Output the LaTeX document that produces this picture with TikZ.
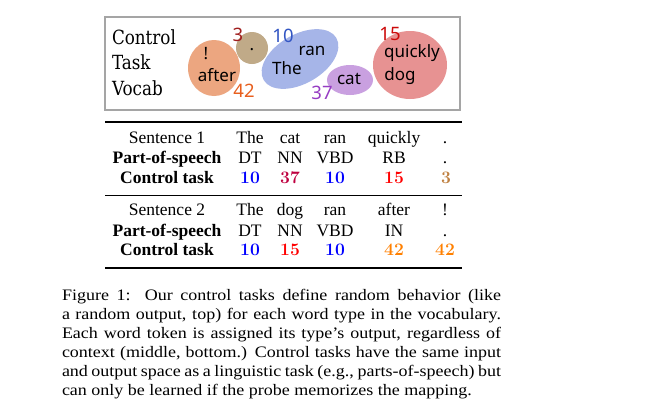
\documentclass[tikz,border=0pt]{standalone}
\usepackage{fontspec}
\newfontfamily\tnr{Liberation Serif}
\newfontfamily\tnrcap[FakeStretch=1.125]{Liberation Serif}
\newfontfamily\vocserif[FakeStretch=0.86]{DejaVu Serif}
\newfontfamily\nsans{Noto Sans}
\definecolor{boxgray}{RGB}{165,165,165}
\definecolor{eorange}{RGB}{236,166,128}
\definecolor{etan}{RGB}{192,170,136}
\definecolor{eblue}{RGB}{166,181,232}
\definecolor{epurple}{RGB}{201,160,224}
\definecolor{ered}{RGB}{231,146,146}
\definecolor{nthree}{RGB}{160,30,30}
\definecolor{nten}{RGB}{50,85,195}
\definecolor{nfortytwo}{RGB}{232,95,30}
\definecolor{nthirtyseven}{RGB}{150,60,195}
\definecolor{nfifteen}{RGB}{205,10,10}
\begin{document}
\begin{tikzpicture}[x=1pt,y=-1pt,
  every node/.style={inner sep=0pt,outer sep=0pt},
  voc/.style={font=\vocserif\fontsize{19.5}{22}\selectfont,anchor=west,text height=14pt,text depth=4pt},
  word/.style={font=\nsans\fontsize{17}{20}\selectfont,text height=12.2pt,text depth=3.4pt},
  vnum/.style={font=\nsans\fontsize{18.5}{20}\selectfont,text height=13pt,text depth=0pt},
  cell/.style={font=\tnr\fontsize{17.5}{20}\selectfont,text height=12pt,text depth=3.5pt},
  bcell/.style={font=\tnr\bfseries\fontsize{17.5}{20}\selectfont,text height=12pt,text depth=3.5pt},
  tnum/.style={font=\bfseries\fontsize{17.5}{20}\selectfont,text height=12pt,text depth=3.5pt},
  heavyrule/.style={line width=1.5pt},
  lightrule/.style={line width=0.9pt}]
\useasboundingbox (0,0) rectangle (645,418);
\fill[white] (0,0) rectangle (645,418);
% vocab box
\draw[boxgray,line width=1.6pt] (105,17) rectangle (460,110);
\node[voc] (lc) at (112,39) {Control};
\node[voc] (lt) at (112,64.5) {Task};
\node[voc] (lv) at (112,90) {Vocab};
% ellipses
\fill[eorange] (214,68) ellipse [x radius=26, y radius=28];
\fill[etan] (252,48) circle [radius=16];
\fill[eblue,rotate around={30:(300,59)}] (300,59) ellipse [x radius=42, y radius=24.5];
\fill[epurple] (350,80) ellipse [x radius=23, y radius=15];
\fill[ered] (410,65) ellipse [x radius=37, y radius=34];
% words
\node[word] (wbang) at (206,55) {!};
\node[word] (wafter) at (217,77) {after};
\node[word] (wdot) at (252,46) {.};
\node[word] (wran) at (312,51) {ran};
\node[word] (wthe) at (287,70) {The};
\node[word] (wcat) at (349,80) {cat};
\node[word] (wquickly) at (412,53) {quickly};
\node[word] (wdog) at (400,76) {dog};
% numbers
\node[vnum,text=nthree] (v3) at (238,35) {3};
\node[vnum,text=nten] (v10) at (283,36) {10};
\node[vnum,text=nfortytwo] (v42) at (244,91) {42};
\node[vnum,text=nthirtyseven] (v37) at (322,93) {37};
\node[vnum,text=nfifteen] (v15) at (390,34) {15};
% table rules
\coordinate (r1a) at (105,122); \coordinate (r1b) at (462,122);
\coordinate (r2a) at (105,195); \coordinate (r2b) at (462,195);
\coordinate (r3a) at (105,268); \coordinate (r3b) at (462,268);
\draw[heavyrule] (r1a) -- (r1b);
\draw[lightrule] (r2a) -- (r2b);
\draw[heavyrule] (r3a) -- (r3b);
% sentence 1
\node[cell] (s1) at (167,139) {Sentence 1};
\node[bcell] (p1) at (167,159) {Part-of-speech};
\node[bcell] (c1) at (167,179) {Control task};
\node[cell] (s1a) at (250,139) {The};
\node[cell] (s1b) at (290,139) {cat};
\node[cell] (s1c) at (335,139) {ran};
\node[cell] (s1d) at (394,139) {quickly};
\node[cell] (s1e) at (445,139) {.};
\node[cell] (p1a) at (250,159) {DT};
\node[cell] (p1b) at (290,159) {NN};
\node[cell] (p1c) at (335,159) {VBD};
\node[cell] (p1d) at (394,159) {RB};
\node[cell] (p1e) at (445,159) {.};
\node[tnum,text=blue] (c1a) at (250,179) {10};
\node[tnum,text=purple] (c1b) at (290,179) {37};
\node[tnum,text=blue] (c1c) at (335,179) {10};
\node[tnum,text=red] (c1d) at (394,179) {15};
\node[tnum,text=brown] (c1e) at (446,179) {3};
% sentence 2
\node[cell] (s2) at (167,211) {Sentence 2};
\node[bcell] (p2) at (167,232) {Part-of-speech};
\node[bcell] (c2) at (167,251) {Control task};
\node[cell] (s2a) at (250,211) {The};
\node[cell] (s2b) at (290,211) {dog};
\node[cell] (s2c) at (335,211) {ran};
\node[cell] (s2d) at (394,211) {after};
\node[cell] (s2e) at (445,211) {!};
\node[cell] (p2a) at (250,232) {DT};
\node[cell] (p2b) at (290,232) {NN};
\node[cell] (p2c) at (335,232) {VBD};
\node[cell] (p2d) at (394,232) {IN};
\node[cell] (p2e) at (445,232) {.};
\node[tnum,text=blue] (c2a) at (250,251) {10};
\node[tnum,text=red] (c2b) at (290,251) {15};
\node[tnum,text=blue] (c2c) at (335,251) {10};
\node[tnum,text=orange] (c2d) at (394,251) {42};
\node[tnum,text=orange] (c2e) at (445,251) {42};
% caption
\node[anchor=north west,text width=439pt,align=justify,
  font=\tnrcap\fontsize{16}{19}\selectfont] (cap) at (62,289)
 {Figure 1:\hspace{0.9em}Our control tasks define random behavior (like\linebreak
  a random output, top) for each word type in the vocabulary.\linebreak
  Each word token is assigned its type’s output, regardless of\linebreak
  context (middle, bottom.) Control tasks have the same input\linebreak
  and output space as a linguistic task (e.g., parts-of-speech) but\linebreak
  can only be learned if the probe memorizes the mapping.};
\end{tikzpicture}
\end{document}
